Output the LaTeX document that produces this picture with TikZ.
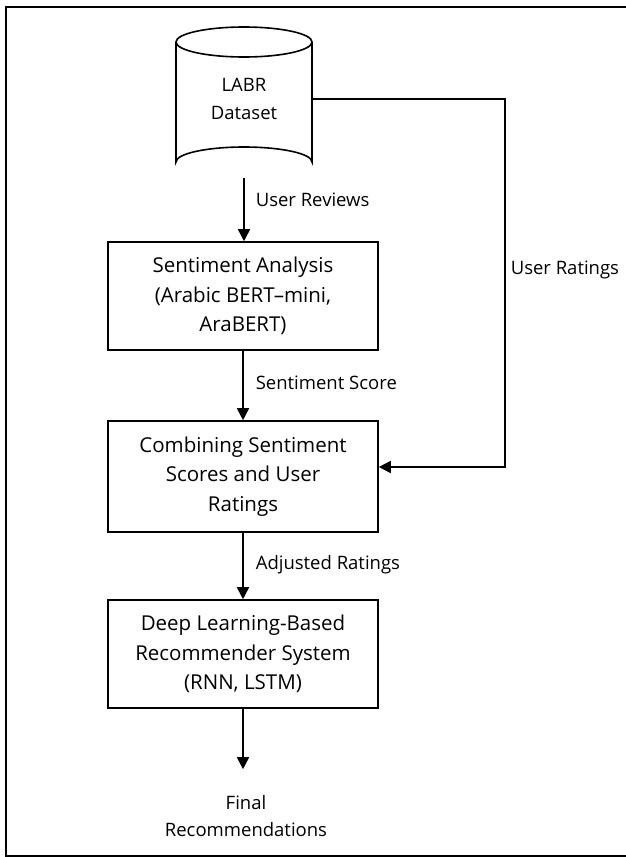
\documentclass[tikz,border=0pt]{standalone}
\usepackage{fontspec}
\setmainfont{Open Sans}
\usetikzlibrary{arrows.meta}
\begin{document}
\begin{tikzpicture}[x=1pt,y=-1pt,
  line width=1.6pt,
  stepbox/.style={draw, rectangle, minimum width=270pt, align=center,
    font=\fontsize{20.5}{29.5}\selectfont, inner sep=0pt},
  flowlabel/.style={anchor=west, font=\fontsize{18.5}{20}\selectfont, inner sep=0pt},
  flow/.style={-{Triangle[width=12pt,length=12pt]}},
  plain/.style={align=center, font=\fontsize{18.5}{28}\selectfont, inner sep=0pt}]
\useasboundingbox (0,0) rectangle (626,857);

% outer frame (open on the right)
\draw (626,7) -- (6,7) -- (6,856) -- (626,856);

% database cylinder
\draw (244,42) ellipse [x radius=68, y radius=15];
\draw (176,42) -- (176,162) arc [start angle=180, end angle=360, x radius=68, y radius=15] -- (312,42);
\node[plain, minimum width=136pt, minimum height=156pt] (db) at (244,99) {LABR\\Dataset};

% processing steps
\node[stepbox, minimum height=108pt] (sa) at (243,296)
  {Sentiment Analysis\\(Arabic BERT–mini,\\AraBERT)};
\node[stepbox, minimum height=111pt] (comb) at (243,476.5)
  {Combining Sentiment\\Scores and User\\Ratings};
\node[stepbox, minimum height=108pt] (deep) at (243,654)
  {Deep Learning-Based\\Recommender System\\(RNN, LSTM)};
\node[plain, minimum height=92pt, font=\fontsize{18.5}{27}\selectfont] (final) at (246,816)
  {Final\\Recommendations};

% connectors
\draw[flow] (db.south) -- (sa.north -| db.south);
\draw[flow] (sa.south) -- (comb.north);
\draw[flow] (comb.south) -- (deep.north);
\draw[flow] (deep.south) -- (final.north -| deep.south);
\coordinate (bend) at (505,467);
\draw[flow] (db.east) -| (bend) -- (comb.east |- bend);

% connector labels
\node[flowlabel] (lrev) at (255,200) {User Reviews};
\node[flowlabel] (lscore) at (255,383) {Sentiment Score};
\node[flowlabel] (ladj) at (255,565) {Adjusted Ratings};
\node[flowlabel] (lrat) at (510,270) {User Ratings};
\end{tikzpicture}
\end{document}
